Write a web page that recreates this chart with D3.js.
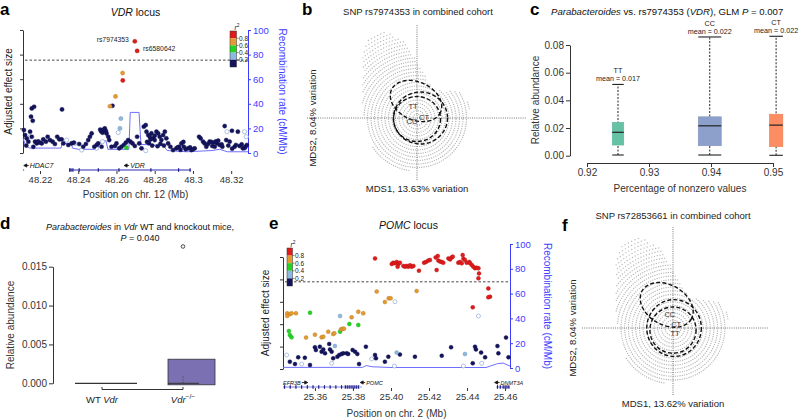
<!DOCTYPE html>
<html><head><meta charset="utf-8">
<script src="https://cdn.jsdelivr.net/npm/d3@7"></script>
<style>body{margin:0;background:#fff}svg{display:block}</style>
</head><body><svg id="fig" width="800" height="419"></svg>
<script>
// ================= DATA =================
// ---- panel a: VDR locus (position Mb, adjusted effect on 0-100 recomb. scale) ----
const vdrTitle = "VDR";
const vdrPosTicks = [48.22, 48.24, 48.26, 48.28, 48.30, 48.32];
const vdrPosLabels = ["48.22", "48.24", "48.26", "48.28", "48.3", "48.32"];
const recombTicks = [0, 20, 40, 60, 80, 100];
const vdrThreshold = 75.5;
const vdrRed = [[48.2696, 90.8], [48.2708, 83], [48.2633, 59]];
const vdrOrange = [[48.2632, 65], [48.2595, 46], [48.2566, 38]];
const vdrGreen = [[48.2652, 4.3]];
const vdrLightBlue = [[48.2623, 28], [48.2618, 20]];
const vdrNavy = [
  [48.2116,18.6],[48.2122,14.6],[48.2130,11.9],[48.2139,9.2],[48.2148,17.3],[48.2157,13.2],[48.2174,9.2],
  [48.2183,7.8],[48.2200,8.4],[48.2209,7.8],[48.2217,11.1],[48.2231,9.2],[48.2240,13.2],[48.2252,10.5],
  [48.2266,9.2],[48.2278,7.3],[48.2290,13.2],[48.2301,11.1],[48.2313,11.1],[48.2322,7.8],[48.2348,6.5],
  [48.2365,7.8],[48.2377,8.4],[48.2405,7.3],[48.2426,5.1],[48.2440,7.3],[48.2452,10.5],[48.2461,13.2],
  [48.2470,15.9],[48.2484,5.1],[48.2496,6.5],[48.2504,7.8],[48.2522,5.1],[48.2531,18.6],[48.2539,20],
  [48.2545,17.8],[48.2548,15.9],[48.2557,13.2],[48.2562,10.5],[48.2574,5.1],[48.2592,5.7],[48.2600,7.8],
  [48.2614,3.8],[48.2626,5.1],[48.2638,6.5],[48.2649,8.4],[48.2661,10.5],[48.2673,9.2],[48.2684,7.8],
  [48.2696,5.7],[48.2708,13.2],[48.2719,7.8],[48.2731,3.8],[48.2743,21.4],[48.2753,22.7],[48.2757,17.3],
  [48.2766,14.6],[48.2774,13.2],[48.2783,15.9],[48.2792,11.9],[48.2800,10.5],[48.2809,17.3],[48.2818,15.9],
  [48.2826,13.2],[48.2835,10.5],[48.2844,14.6],[48.2853,17.3],[48.2861,11.9],[48.2870,7.8],[48.2882,5.1],
  [48.2896,2.4],[48.2913,3.8],[48.2927,5.1],[48.2940,7.8],[48.2952,5.1],[48.2962,3],[48.2974,3.8],
  [48.2992,2.4],[48.3009,3.8],[48.3032,13.2],[48.3040,11.9],[48.3053,9.2],[48.3061,7.8],[48.3070,5.1],
  [48.3079,7.3],[48.3087,9.2],[48.3101,5.7],[48.3114,5.1],[48.3126,7.8],[48.3140,6.5],[48.3154,5.1],
  [48.3166,21.9],[48.3174,10.5],[48.3192,9.2],[48.3204,18.1],[48.3218,5.1],[48.3235,17.3],[48.3244,5.7],
  [48.3261,3.8],[48.3275,5.1],[48.3282,6.5],
  [48.2157,36.2],[48.2169,37.6],[48.2153,29.5],[48.2162,26.2],[48.2315,35.4],[48.2579,38.4],
  [48.2515,19],[48.2520,17.5],[48.2527,16.5],[48.2535,19.2],
  [48.2770,8],[48.2787,6],[48.2800,14],[48.2815,5.5],[48.2830,7.5],[48.2848,6],[48.2778,11],[48.2760,9],
  [48.2128,6],[48.2165,5],[48.2190,9.5],
  [48.3095,9],[48.3108,8.5],[48.3120,9.5],[48.3132,10],[48.3150,7],[48.3185,6],[48.3205,3.5],[48.3225,6.5],
  [48.3255,7],[48.3270,4],[48.2920,4.5],[48.2935,2.5],[48.2950,9],[48.2985,4.5],[48.3000,3]
];
const vdrOpen = [[48.2148,13.2],[48.2339,10.5],[48.2383,7.8],[48.2418,2.4],[48.2496,3.8],[48.2527,9.2],
  [48.2609,16.6],[48.2753,1.9],[48.2844,12.4],[48.3178,17.3],[48.3270,17.3],[48.3279,13.2]];
const vdrRecomb = [[48.2111,12],[48.2125,6],[48.2145,4],[48.2310,4],[48.2315,8],[48.2365,7],[48.2370,4],
  [48.2400,3],[48.2500,3],[48.2515,9],[48.2545,10],[48.2555,3],[48.2665,3],[48.2672,33],[48.2718,33],
  [48.2728,7],[48.2845,6],[48.2865,2],[48.2965,1],[48.3100,2],[48.3140,3],[48.3180,1],[48.3288,1]];
const vdrSnpLabels = [["rs7974353", 48.2696, 90.8], ["rs6580642", 48.2708, 83]];
const vdrGenes = [{name: "HDAC7", start: 48.2111, end: 48.2117, strand: -1},
                  {name: "VDR", start: 48.2352, end: 48.2990, strand: -1, labelAt: 48.2640}];
const vdrExons = [48.2355, 48.2362, 48.2372, 48.2405, 48.2505, 48.2613, 48.2780, 48.2925, 48.2985];
const r2Breaks = [0.8, 0.6, 0.4, 0.2];

// ---- panel b / f: MDS ordination ----
const mdsEnvelopeAngle = [0, 15, 30, 45, 60, 75, 90, 100, 110, 120, 130, 140, 155, 170, 180, 200, 225, 245, 270, 300, 330, 360];
const mdsEnvelopeRadius = [0.52, 0.54, 0.5, 0.38, 0.33, 0.38, 0.55, 0.78, 0.92, 0.94, 0.85, 0.7, 0.6, 0.55, 0.52, 0.5, 0.56, 0.55, 0.52, 0.5, 0.5, 0.52];
const mdsRings = [0.04,0.075,0.11,0.145,0.18,0.215,0.25,0.285,0.32,0.355,0.39,0.425,0.46,0.495,0.53,0.565,0.6,0.635,0.67,0.705,0.74,0.775,0.81,0.845,0.88,0.915];
const mdsSpokeStep = 2.2; // degrees between samples along each ring
const bGenotypes = ["TT", "CC", "CT"];
const bEllipseCx = [-0.01, 0.0, 0.035];
const bEllipseCy = [0.17, -0.01, 0.0];
const bEllipseRx = [0.27, 0.235, 0.27];
const bEllipseRy = [0.19, 0.225, 0.26];
const bEllipseRot = [25, 0, 0];
const bLabelX = [-0.04, -0.05, 0.07];
const bLabelY = [0.12, -0.03, 0.01];
const fGenotypes = ["CC", "CT", "TT"];
const fEllipseCx = [-0.06, 0.01, 0.0];
const fEllipseCy = [0.22, 0.0, -0.02];
const fEllipseRx = [0.27, 0.26, 0.22];
const fEllipseRy = [0.19, 0.27, 0.22];
const fEllipseRot = [30, 0, 0];
const fLabelX = [-0.03, 0.03, 0.02];
const fLabelY = [0.125, 0.03, -0.055];

// ---- panel c: boxplots ----
const cGenotypes = ["TT", "CC", "CT"];
const cNonzero = [0.9250, 0.9398, 0.9505];
const cWhiskLo = [0.0005, 0.0005, 0.0003];
const cQ1 = [0.0077, 0.0072, 0.0065];
const cMedian = [0.0169, 0.0216, 0.0221];
const cQ3 = [0.0241, 0.0281, 0.0300];
const cWhiskHi = [0.0515, 0.0858, 0.0863];
const cMeans = ["0.017", "0.022", "0.022"];
const cXTicks = [0.92, 0.93, 0.94, 0.95];
const cYTicks = [0, 0.02, 0.04, 0.06, 0.08];
const cYLabels = ["0.00", "0.02", "0.04", "0.06", "0.08"];

// ---- panel d: mouse boxplots ----
const dGroups = ["WT", "KO"];
const dWhiskLo = [0, 0];
const dQ1 = [0, 0];
const dMedian = [0, 0.0009];
const dQ3 = [0, 0.0031];
const dOutliers = [[1, 0.0176]];
const dYTicks = [0, 0.005, 0.010, 0.015];
const dYLabels = ["0.000", "0.005", "0.010", "0.015"];

// ---- panel e: POMC locus ----
const pomcPosTicks = [25.36, 25.38, 25.40, 25.42, 25.44, 25.46];
const pomcPosLabels = ["25.36", "25.38", "25.40", "25.42", "25.44", "25.46"];
const pomcThreshold = 69.5;
const pomcRed = [[25.3916,88.4],[25.4004,83.9],[25.4012,84.9],[25.4021,84.4],[25.4030,85.5],[25.4039,83.9],
  [25.4047,84.9],[25.4035,81.7],[25.4065,82.3],[25.4074,81.7],[25.4082,82.3],[25.4091,81.7],[25.4100,82.8],
  [25.4109,81.7],[25.4118,82.3],[25.4147,78.5],[25.4174,84.9],[25.4184,85.5],[25.4196,86.6],[25.4205,87.1],
  [25.4235,89.2],[25.4246,90.3],[25.4249,86.6],[25.4258,85.8],[25.4267,85.5],[25.4275,84.9],[25.4240,79],
  [25.4302,88.4],[25.4311,87.6],[25.4319,89.2],[25.4325,89.8],[25.4354,84.9],[25.4363,85.5],[25.4372,84.4],
  [25.4377,91.1],[25.4381,88.2],[25.4389,87.1],[25.4398,84.9],[25.4412,85.5],[25.4416,84.4],[25.4425,83.1],
  [25.4433,81.7],[25.4442,80.4],[25.4451,80.9],[25.4460,80.4],[25.4463,76.3],[25.4460,72.3],[25.4430,48.9],
  [25.4512,64.2],[25.4521,57.5],[25.4512,57]];
const pomcOrange = [[25.3454,44.1],[25.3468,43.3],[25.3477,44.1],[25.3500,44.1],[25.3454,41.9],[25.3553,24.5],
  [25.3600,26.9],[25.3635,24.7],[25.3644,25.3],[25.3670,29.3],[25.3696,27.4],[25.3702,28],[25.3737,31.2],
  [25.3746,31.7],[25.3753,31.7],[25.3793,40.9],[25.3828,45.4],[25.3854,44.1],[25.3925,61.6],[25.3968,53.2],
  [25.3988,56.2],[25.3998,56.2],[25.4135,62.1]];
const pomcGreen = [[25.3574,44.6],[25.3463,29.8],[25.3468,26.6],[25.3477,24.7],[25.3781,35.5],[25.3828,34.7],[25.3732,29.3]];
const pomcLightBlue = [[25.3732,41.9],[25.3705,17.7],[25.4389,11.3],[25.4030,12.4]];
const pomcNavy = [[25.3468,5.1],[25.3495,3.2],[25.3512,8.6],[25.3547,8.3],[25.3574,2.4],[25.3600,16.7],
  [25.3605,14.5],[25.3626,17.2],[25.3635,13.2],[25.3644,15],[25.3653,11.8],[25.3675,19.4],[25.3679,15],
  [25.3688,13.2],[25.3696,7.8],[25.3718,9.1],[25.3728,10.5],[25.3740,11.3],[25.3749,11.8],[25.3767,11.8],
  [25.3775,11.3],[25.3798,14.5],[25.3811,13.2],[25.3823,11.3],[25.3832,3.2],[25.3868,17.2],[25.3916,10.5],
  [25.3921,7.8],[25.3968,5.1],[25.3986,9.1],[25.4047,10.8],[25.4126,9.1],[25.4267,9.9],[25.4316,16.7],
  [25.4442,17.2],[25.4447,15],[25.4430,3.8],[25.4474,12.4],[25.4495,8.6],[25.4560,17.7],[25.4565,11.8],
  [25.4618,8.6],[25.4605,24.5]];
const pomcOpen = [[25.3451,10.5],[25.3530,3.2],[25.3688,3.8],[25.3898,7.3],[25.4018,1.6],[25.4381,1.6],
  [25.4477,3.8],[25.4460,41.9],[25.4021,53.5]];
const pomcRecomb = [[25.3432,0.5],[25.3850,0.5],[25.3870,2],[25.3900,1],[25.4000,0.4],[25.4500,0.4],
  [25.4560,3.5],[25.4590,4],[25.4626,1.5]];
const pomcGenes = [{name: "EFR3B", start: 25.3432, end: 25.3832, strand: 1},
                   {name: "POMC", start: 25.3838, end: 25.3846, strand: -1},
                   {name: "DNMT3A", start: 25.4556, end: 25.4626, strand: -1}];
const pomcExons = [25.3440, 25.3470, 25.3500, 25.3530, 25.3560, 25.3590, 25.3620, 25.3650, 25.3680,
  25.3710, 25.3740, 25.3760, 25.3770, 25.3780, 25.3790, 25.3800, 25.3810, 25.3820, 25.3830,
  25.4560, 25.4575, 25.4590, 25.4600, 25.4610, 25.4620];

// ================= DRAWING =================
const FONT = '"Liberation Sans", Arial, Helvetica, sans-serif';
const svg = d3.select("#fig").attr("font-family", FONT);
const BLUE = "#3d3dff";
const ldColor = d3.scaleThreshold().domain([0.2, 0.4, 0.6, 0.8])
  .range(["#14145e", "#8db8e0", "#22d322", "#e59a2f", "#e11b1b"]);

function label(g, x, y, parts, o = {}) {
  const size = o.size || 9;
  const t = g.append("text").attr("x", x).attr("y", y)
    .attr("font-size", size).attr("text-anchor", o.anchor || "start")
    .attr("fill", o.fill || "#222");
  if (o.bold) t.attr("font-weight", "bold");
  if (o.rotate) t.attr("transform", `rotate(${o.rotate},${x},${y})`);
  if (typeof parts === "string") parts = [[parts]];
  let shifted = 0;
  parts.forEach(([s, st]) => {
    const ts = t.append("tspan").text(s);
    if (st && st.includes("i")) ts.attr("font-style", "italic");
    if (st && st.includes("s")) {
      ts.attr("font-size", size * 0.7).attr("dy", -size * 0.4); shifted = size * 0.4;
    } else if (shifted) { ts.attr("dy", shifted); shifted = 0; }
  });
  return t;
}
function styleAxis(sel, color, size) {
  sel.attr("font-family", FONT).attr("font-size", size);
  sel.selectAll("path,line").attr("stroke", color).attr("stroke-width", 1);
  sel.selectAll("text").attr("fill", color);
  return sel;
}

// ---------- locus plot helper ----------
function locus(o) {
  const g = svg.append("g");
  const x = d3.scaleLinear().domain(o.xDomain).range([o.left, o.right]);
  const y = d3.scaleLinear().domain([0, 100]).range([o.bottom, o.top]);
  const yl = d3.scaleLinear().domain([0, 5]).range([o.lBottom, o.lTop]);
  styleAxis(g.append("g").attr("transform", `translate(${o.left},0)`)
    .call(d3.axisLeft(yl).tickValues([0, 1, 2, 3, 4, 5]).tickFormat("").tickSize(3).tickSizeOuter(0)), "#333", 9);
  styleAxis(g.append("g").attr("transform", `translate(${o.right},0)`)
    .call(d3.axisRight(y).tickValues(recombTicks).tickSize(3).tickPadding(2).tickSizeOuter(0)), BLUE, 9.5);
  g.append("path").datum(o.recomb).attr("fill", "none").attr("stroke", "#6f6fff").attr("stroke-width", 1)
    .attr("d", d3.line().x(d => x(d[0])).y(d => y(d[1])));
  g.append("line").attr("x1", o.left + 2).attr("x2", o.right).attr("y1", y(o.threshold)).attr("y2", y(o.threshold))
    .attr("stroke", "#333").attr("stroke-width", 0.9).attr("stroke-dasharray", "2.5 2");
  const pts = [];
  o.open.forEach(d => pts.push({d, r2: null}));
  o.navy.forEach(d => pts.push({d, r2: 0.1}));
  o.lightblue.forEach(d => pts.push({d, r2: 0.3}));
  o.green.forEach(d => pts.push({d, r2: 0.5}));
  o.orange.forEach(d => pts.push({d, r2: 0.7}));
  o.red.forEach(d => pts.push({d, r2: 0.9}));
  g.selectAll("circle.snp").data(pts).join("circle").attr("class", "snp")
    .attr("cx", p => x(p.d[0])).attr("cy", p => y(p.d[1])).attr("r", o.pr)
    .attr("fill", p => p.r2 == null ? "#fff" : ldColor(p.r2))
    .attr("stroke", p => p.r2 == null ? "#9bb5d6" : d3.color(ldColor(p.r2)).darker(0.7))
    .attr("stroke-width", p => p.r2 == null ? 0.8 : 0.4);
  const xa = g.append("g").attr("transform", `translate(0,${o.axisY})`)
    .call(d3.axisBottom(x).tickValues(o.ticks).tickFormat((d, i) => o.tickLabels[i]).tickSize(3).tickPadding(2));
  styleAxis(xa, "#333", o.tickSize);
  xa.select(".domain").remove();
  const gy = o.geneY;
  o.genes.forEach(gn => {
    g.append("line").attr("x1", x(gn.start)).attr("x2", x(gn.end)).attr("y1", gy).attr("y2", gy)
      .attr("stroke", o.geneColor).attr("stroke-width", 1);
  });
  g.selectAll("line.exon").data(o.exons).join("line").attr("class", "exon")
    .attr("x1", d => x(d)).attr("x2", d => x(d)).attr("y1", gy - 1.8).attr("y2", gy + 1.8)
    .attr("stroke", "#1b1b8a").attr("stroke-width", 1.2);
  o.geneLabels.forEach(([name, pos, arrowFirst]) => {
    const lx = x(pos);
    if (arrowFirst) {
      g.append("path").attr("d", `M${lx},${gy - 4.5}l3,-1.6v3.2z M${lx + 2},${gy - 4.5}h3`).attr("stroke", "#111").attr("fill", "#111").attr("stroke-width", 0.8);
      label(g, lx + 6, gy - 2.5, [[name, "i"]], {size: o.geneFont, fill: "#111"});
    } else {
      const t = label(g, lx, gy - 2.5, [[name, "i"]], {size: o.geneFont, fill: "#111"});
      const w = t.node().getComputedTextLength();
      g.append("path").attr("d", `M${lx + w + 1},${gy - 4.5}h3 M${lx + w + 7},${gy - 4.5}l-3,-1.6v3.2z`).attr("stroke", "#111").attr("fill", "#111").attr("stroke-width", 0.8);
    }
  });
  const lg = g.append("g");
  const segH = o.legH / 5;
  [0.9, 0.7, 0.5, 0.3, 0.1].forEach((v, i) => {
    lg.append("rect").attr("x", o.legX).attr("y", o.legY + i * segH).attr("width", o.legW).attr("height", segH)
      .attr("fill", ldColor(v));
  });
  lg.append("rect").attr("x", o.legX).attr("y", o.legY).attr("width", o.legW).attr("height", o.legH)
    .attr("fill", "none").attr("stroke", "#333").attr("stroke-width", 0.5);
  r2Breaks.forEach((b, i) => {
    const yy = o.legY + (i + 1) * segH;
    lg.append("line").attr("x1", o.legX + o.legW).attr("x2", o.legX + o.legW + 2).attr("y1", yy).attr("y2", yy).attr("stroke", "#333").attr("stroke-width", 0.6);
    label(lg, o.legX + o.legW + 2.5, yy + 2.3, b.toFixed(1), {size: 6.5, fill: "#222"});
  });
  label(lg, o.legX + o.legW - 2, o.legY - 1.5, [["r", "i"], ["2", "s"]], {size: 7, fill: "#222"});
  label(g, (o.left + o.right) / 2 + o.titleDx, o.titleY, [[o.gene, "i"], [" locus"]], {size: 10.5, anchor: "middle", fill: "#111"});
  label(g, (o.left + o.right) / 2, o.xTitleY, o.xTitle, {size: 10, anchor: "middle", fill: "#333"});
  label(g, o.yTitleX, (o.lTop + o.lBottom) / 2, "Adjusted effect size", {size: 10, anchor: "middle", rotate: -90, fill: "#222"});
  label(g, o.rTitleX, (o.top + o.bottom) / 2, "Recombination rate (cM/Mb)", {size: 10, anchor: "middle", rotate: 90, fill: BLUE});
  return {g, x, y};
}

// ---------- panel a ----------
const A = locus({
  xDomain: [48.2111, 48.3288], left: 23, right: 248, top: 30, bottom: 153, lTop: 30, lBottom: 153,
  recomb: vdrRecomb, threshold: vdrThreshold, pr: 2.1,
  open: vdrOpen, navy: vdrNavy, lightblue: vdrLightBlue, green: vdrGreen, orange: vdrOrange, red: vdrRed,
  axisY: 171, ticks: vdrPosTicks, tickLabels: vdrPosLabels, tickSize: 9.5,
  geneY: 170, genes: vdrGenes, exons: vdrExons, geneColor: "#2b2bb0", geneFont: 7,
  geneLabels: [["HDAC7", 48.2115, true], ["VDR", 48.2640, true]],
  legX: 230, legY: 31, legW: 6.5, legH: 36,
  gene: vdrTitle, titleDx: 0, titleY: 15.5, xTitle: "Position on chr. 12 (Mb)", xTitleY: 198,
  yTitleX: 12, rTitleX: 278.5
});
vdrSnpLabels.forEach(([name, pos, val], i) => {
  if (i === 0) label(A.g, A.x(pos) - 6, A.y(val) + 1, name, {size: 6.8, anchor: "end", fill: "#222"});
  else label(A.g, A.x(pos) + 6, A.y(val) + 0, name, {size: 6.8, fill: "#222"});
});

// ---------- panel e ----------
locus({
  xDomain: [25.3432, 25.4626], left: 283, right: 510, top: 244, bottom: 368, lTop: 257, lBottom: 369,
  recomb: pomcRecomb, threshold: pomcThreshold, pr: 2.0,
  open: pomcOpen, navy: pomcNavy, lightblue: pomcLightBlue, green: pomcGreen, orange: pomcOrange, red: pomcRed,
  axisY: 388, ticks: pomcPosTicks, tickLabels: pomcPosLabels, tickSize: 9.5,
  geneY: 387, genes: pomcGenes, exons: pomcExons, geneColor: "#8080e0", geneFont: 5.5,
  geneLabels: [["EFR3B", 25.3432, false], ["POMC", 25.3838, true], ["DNMT3A", 25.4545, true]],
  legX: 287, legY: 248, legW: 5.5, legH: 38,
  gene: "POMC", titleDx: 12, titleY: 228.5, xTitle: "Position on chr. 2 (Mb)", xTitleY: 417,
  yTitleX: 269, rTitleX: 543.5
});

// ---------- MDS panels ----------
function mds(o) {
  const g = svg.append("g");
  const x = d3.scaleLinear().domain(o.xDomain).range(o.xRange);
  const y = d3.scaleLinear().domain(o.yDomain).range(o.yRange);
  const k = x(1) - x(0), ky = y(0) - y(1);
  const env = d3.scaleLinear().domain(mdsEnvelopeAngle).range(mdsEnvelopeRadius);
  const dots = [];
  mdsRings.forEach((r, ri) => {
    const step = Math.max(mdsSpokeStep, (2.3 / (r * k)) * 180 / Math.PI);
    for (let a = (ri % 2) * step / 2; a < 360; a += step) {
      if (env(a) >= r) dots.push([r * Math.cos(a * Math.PI / 180), r * Math.sin(a * Math.PI / 180)]);
    }
  });
  g.selectAll("circle.s").data(dots).join("circle").attr("class", "s")
    .attr("cx", d => x(d[0])).attr("cy", d => y(d[1])).attr("r", 0.68)
    .attr("fill", "#b6b6b6");
  g.append("line").attr("x1", x.range()[0]).attr("x2", x.range()[1]).attr("y1", y(0)).attr("y2", y(0))
    .attr("stroke", "#555").attr("stroke-width", 0.8).attr("stroke-dasharray", "1 1.2");
  g.append("line").attr("x1", x(0)).attr("x2", x(0)).attr("y1", y.range()[0]).attr("y2", y.range()[1])
    .attr("stroke", "#555").attr("stroke-width", 0.8).attr("stroke-dasharray", "1 1.2");
  o.genotypes.forEach((gt, i) => {
    g.append("ellipse").attr("cx", 0).attr("cy", 0).attr("rx", o.rx[i] * k).attr("ry", o.ry[i] * ky)
      .attr("transform", `translate(${x(o.cx[i])},${y(o.cy[i])}) rotate(${o.rot[i]})`)
      .attr("fill", "none").attr("stroke", "#111").attr("stroke-width", 1.4).attr("stroke-dasharray", "4 2.2");
  });
  o.genotypes.forEach((gt, i) => {
    label(g, x(o.lx[i]), y(o.ly[i]) + 2.6, gt, {size: 7.5, anchor: "middle", fill: "#333"});
  });
  label(g, o.titleX, o.titleY, o.title, {size: 9.5, anchor: "middle", fill: "#222"});
  label(g, x(0), o.xTitleY, o.xTitle, {size: 9.5, anchor: "middle", fill: "#222"});
  label(g, o.yTitleX, y(0), "MDS2, 8.04% variation", {size: 9.5, anchor: "middle", rotate: -90, fill: "#222"});
}
mds({xDomain: [-1.1, 1.1], xRange: [307, 527], yDomain: [-0.62, 0.93], yRange: [180, 25],
  genotypes: bGenotypes, cx: bEllipseCx, cy: bEllipseCy, rx: bEllipseRx, ry: bEllipseRy, rot: bEllipseRot,
  lx: bLabelX, ly: bLabelY, title: "SNP rs7974353 in combined cohort", titleX: 418, titleY: 15,
  xTitle: "MDS1, 13.63% variation", xTitleY: 191.5, yTitleX: 316});
mds({xDomain: [-0.867, 0.905], xRange: [582, 768], yDomain: [-0.638, 0.962], yRange: [395, 227],
  genotypes: fGenotypes, cx: fEllipseCx, cy: fEllipseCy, rx: fEllipseRx, ry: fEllipseRy, rot: fEllipseRot,
  lx: fLabelX, ly: fLabelY, title: "SNP rs72853661 in combined cohort", titleX: 673, titleY: 218.5,
  xTitle: "MDS1, 13.62% variation", xTitleY: 406.5, yTitleX: 576});

// ---------- panel c ----------
(function () {
  const g = svg.append("g");
  const x = d3.scaleLinear().domain([0.92, 0.95]).range([587, 773]);
  const y = d3.scaleLinear().domain([0, 0.08]).range([155.7, 45]);
  const colors = ["#66c2a5", "#8da0cb", "#fc8d62"];
  const widths = [11.5, 23, 13.5];
  styleAxis(g.append("g").attr("transform", "translate(570,0)")
    .call(d3.axisLeft(y).tickValues(cYTicks).tickFormat((d, i) => cYLabels[i]).tickSize(4).tickPadding(2).tickSizeOuter(0)), "#333", 10);
  styleAxis(g.append("g").attr("transform", "translate(0,163)")
    .call(d3.axisBottom(x).tickValues(cXTicks).tickFormat(d3.format(".2f")).tickSize(4).tickPadding(2).tickSizeOuter(0)), "#333", 10);
  cGenotypes.forEach((gt, i) => {
    const cx = x(cNonzero[i]), w = widths[i];
    g.append("line").attr("x1", cx).attr("x2", cx).attr("y1", y(cWhiskLo[i])).attr("y2", y(cWhiskHi[i]))
      .attr("stroke", "#222").attr("stroke-width", 1).attr("stroke-dasharray", "2 1.5");
    [cWhiskLo[i], cWhiskHi[i]].forEach(v => g.append("line").attr("x1", cx - w / 2).attr("x2", cx + w / 2)
      .attr("y1", y(v)).attr("y2", y(v)).attr("stroke", "#222").attr("stroke-width", 1.1));
    g.append("rect").attr("x", cx - w / 2).attr("width", w).attr("y", y(cQ3[i])).attr("height", y(cQ1[i]) - y(cQ3[i]))
      .attr("fill", colors[i]).attr("stroke", d3.color(colors[i]).darker(0.2)).attr("stroke-width", 0.6);
    g.append("line").attr("x1", cx - w / 2).attr("x2", cx + w / 2).attr("y1", y(cMedian[i])).attr("y2", y(cMedian[i]))
      .attr("stroke", "#222").attr("stroke-width", 1.2);
    label(g, cx, y(cWhiskHi[i]) - 3, "mean = " + cMeans[i], {size: 7.2, anchor: "middle", fill: "#222"});
    label(g, cx, y(cWhiskHi[i]) - 11.3, gt, {size: 7.2, anchor: "middle", fill: "#222"});
  });
  label(g, 551, 15, [["Parabacteroides", "i"], [" vs. rs7974353 ("], ["VDR", "i"], ["), GLM "], ["P", "i"], [" = 0.007"]], {size: 9.6, fill: "#111"});
  label(g, 680, 191.5, "Percentage of nonzero values", {size: 10, anchor: "middle", fill: "#333"});
  label(g, 539, 100, "Relative abundance", {size: 10, anchor: "middle", rotate: -90, fill: "#333"});
})();

// ---------- panel d ----------
(function () {
  const g = svg.append("g");
  const xc = [102, 183];
  const y = d3.scaleLinear().domain([0, 0.015]).range([383.3, 266.7]);
  styleAxis(g.append("g").attr("transform", "translate(53,0)")
    .call(d3.axisLeft(y).tickValues(dYTicks).tickFormat((d, i) => dYLabels[i]).tickSize(4).tickPadding(2).tickSizeOuter(0)), "#333", 10);
  const widths = [62, 47];
  const centers = [106, 191.5];
  dGroups.forEach((gr, i) => {
    const cx = centers[i], w = widths[i];
    if (dQ3[i] > dQ1[i]) {
      g.append("rect").attr("x", cx - w / 2).attr("width", w).attr("y", y(dQ3[i])).attr("height", y(dQ1[i]) - y(dQ3[i]) + 1.5)
        .attr("fill", "#7b70b2").attr("stroke", "#333").attr("stroke-width", 0.8);
      g.append("line").attr("x1", xc[i]).attr("x2", xc[i]).attr("y1", y(dMedian[i])).attr("y2", y(dWhiskLo[i]))
        .attr("stroke", "#555").attr("stroke-dasharray", "1.5 1.2");
      g.append("line").attr("x1", 168).attr("x2", 199).attr("y1", y(dWhiskLo[i])).attr("y2", y(dWhiskLo[i])).attr("stroke", "#333");
    } else {
      g.append("line").attr("x1", cx - w / 2).attr("x2", cx + w / 2).attr("y1", y(dMedian[i])).attr("y2", y(dMedian[i]))
        .attr("stroke", "#333").attr("stroke-width", 1.2);
    }
  });
  dOutliers.forEach(([gi, v]) => g.append("circle").attr("cx", xc[gi]).attr("cy", y(v)).attr("r", 1.8)
    .attr("fill", "none").attr("stroke", "#222").attr("stroke-width", 0.8));
  g.append("path").attr("d", `M${xc[0]},387V389.5H${xc[1]}V387`).attr("fill", "none").attr("stroke", "#333");
  label(g, xc[0], 403, [["WT "], ["Vdr", "i"]], {size: 9.5, anchor: "middle", fill: "#222"});
  label(g, xc[1], 403, [["Vdr", "i"], ["−/−", "s"]], {size: 9.5, anchor: "middle", fill: "#222"});
  label(g, 140, 230, [["Parabacteroides", "i"], [" in "], ["Vdr", "i"], [" WT and knockout mice,"]], {size: 9, anchor: "middle", fill: "#111"});
  label(g, 140, 240.5, [["P", "i"], [" = 0.040"]], {size: 9, anchor: "middle", fill: "#111"});
  label(g, 14, 325, "Relative abundance", {size: 10, anchor: "middle", rotate: -90, fill: "#333"});
})();

// panel letters
[["a", 0, 15], ["b", 302, 15], ["c", 530, 15], ["d", 0, 229], ["e", 269, 229], ["f", 562, 231]]
  .forEach(([s, x, y]) => label(svg, x, y, s, {size: 17, bold: true, fill: "#000"}));
</script></body></html>
